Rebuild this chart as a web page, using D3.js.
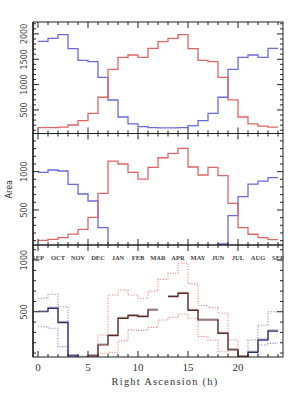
<!DOCTYPE html>
<html>
<head>
<meta charset="utf-8">
<script src="https://cdn.jsdelivr.net/npm/d3@7"></script>
<style>
  body { margin: 0; background: #fff; }
  svg { display: block; }
</style>
</head>
<body>
<div id="chart"></div>
<script>
// hours 0..23, one bin per hour
const hours = d3.range(24);

// panel 1
const topBlue = [1854, 1913, 1984, 1708, 1479, 1452, 1144, 696, 361, 223, 170, 150,
                 145, 145, 150, 190, 288, 434, 750, 1302, 1538, 1584, 1538, 1716];
const topRed = [150, 150, 160, 203, 288, 434, 750, 1302, 1538, 1584, 1538, 1716,
                1846, 1913, 1984, 1708, 1479, 1452, 1144, 700, 361, 223, 180, 160];

// panel 2
const midBlue = [991, 1021, 1008, 834, 708, 617, 269, 0, 0, 0, 0, 0,
                 0, 0, 0, 0, 0, 0, 56, 425, 673, 838, 877, 921];
const midRed = [104, 117, 138, 186, 248, 404, 717, 1138, 1099, 991, 903, 1056,
                1181, 1238, 1304, 1060, 956, 1056, 947, 587, 269, 183, 138, 112];

// panel 3
const N = null;
const lowBlue = [500, 533, 394, 72, 59, N, N, N, N, N, N, N,
                 N, N, N, N, N, N, N, N, 65, 107, 226, 313];
const lowRed = [N, N, N, N, 55, 72, 178, 268, 435, 463, 452, 517,
                N, 646, 678, 513, 420, 420, 291, 130, 65, N, N, N];
const blueHi = [630, 669, 549, 75, 60, N, N, N, N, N, N, N,
                N, N, N, N, N, N, N, N, 62, 226, 370, 500];
const blueLo = [355, 340, 162, 55, N, N, N, N, N, N, N, N,
                N, N, N, N, N, N, N, N, N, 55, 178, 194];
const redHi = [N, N, N, N, 60, 81, 275, 662, 710, 662, 630, 700,
               813, 872, 969, 770, 560, 540, 485, 226, 60, N, N, N];
const redLo = [N, N, N, N, N, 60, 98, 107, 218, 325, 320, 349,
               420, 446, 478, 437, 260, 224, 113, 65, N, N, N, N];

const months = ["SEP", "OCT", "NOV", "DEC", "JAN", "FEB", "MAR", "APR", "MAY", "JUN", "JUL", "AUG", "SEP"];
const xTicks = [0, 5, 10, 15, 20];

const W = 299, H = 399;
const left = 33, right = 283;
const bounds = [22, 133.5, 245, 357];

const svg = d3.select("#chart").append("svg")
  .attr("width", W).attr("height", H);

const x = d3.scaleLinear().domain([-0.5, 24.5]).range([left, right]);

const panels = [
  { domain: [35, 2235], ticks: [500, 1000, 1500, 2000], minor: 100 },
  { domain: [43, 1497], ticks: [500, 1000], minor: 100 },
  { domain: [62, 1146], ticks: [500, 1000], minor: 100 }
];
panels.forEach((p, i) => {
  p.top = bounds[i];
  p.bottom = bounds[i + 1];
  p.y = d3.scaleLinear().domain(p.domain).range([p.bottom, p.top]);
});

function stepPath(vals, y) {
  let d = "", prev = null;
  vals.forEach((v, i) => {
    if (v == null) { prev = null; return; }
    d += prev == null ? `M${x(i)},${y(v)}` : `V${y(v)}`;
    d += `H${x(i + 1)}`;
    prev = v;
  });
  return d;
}

panels.forEach((p, i) => {
  svg.append("clipPath").attr("id", "clip" + i)
    .append("rect").attr("x", left).attr("y", p.top)
    .attr("width", right - left).attr("height", p.bottom - p.top);
});

const ink = "#222";

function series(i, vals, color, opts = {}) {
  const p = panels[i];
  svg.append("path")
    .attr("clip-path", `url(#clip${i})`)
    .attr("d", stepPath(vals, p.y))
    .attr("fill", "none")
    .attr("stroke", color)
    .attr("stroke-width", opts.width || 1.3)
    .attr("stroke-dasharray", opts.dash || null)
    .attr("transform", opts.dy ? `translate(0,${opts.dy})` : null);
}

series(0, topBlue, "#6a6ae0");
series(0, topRed, "#e06464");
series(1, midBlue, "#6a6ae0");
series(1, midRed, "#e06464");

series(2, blueHi, "#7878dc", { dash: "1,1.6", width: 1.1 });
series(2, blueLo, "#7878dc", { dash: "1,1.6", width: 1.1 });
series(2, redHi, "#e47878", { dash: "1,1.6", width: 1.1 });
series(2, redLo, "#e47878", { dash: "1,1.6", width: 1.1 });
series(2, lowBlue, "#a0a0ac", { dy: -1, width: 1.2 });
series(2, lowRed, "#aca0a0", { dy: -1, width: 1.2 });
series(2, lowBlue, "#2c2c74", { width: 1.2 });
series(2, lowRed, "#642424", { width: 1.2 });

// frames and ticks
panels.forEach((p, i) => {
  const g = svg.append("g").attr("stroke", ink).attr("fill", "none");
  g.append("rect").attr("x", left).attr("y", p.top)
    .attr("width", right - left).attr("height", p.bottom - p.top)
    .attr("stroke-width", 1);

  // x ticks, inward on top and bottom
  d3.range(0, 25).forEach(h => {
    const len = h % 5 === 0 ? 6 : 3;
    const xx = x(h);
    g.append("line").attr("x1", xx).attr("x2", xx)
      .attr("y1", p.bottom).attr("y2", p.bottom - len);
    g.append("line").attr("x1", xx).attr("x2", xx)
      .attr("y1", p.top).attr("y2", p.top + len);
  });

  // y ticks, inward on left and right
  const start = Math.ceil(p.domain[0] / p.minor) * p.minor;
  d3.range(start, p.domain[1], p.minor).forEach(v => {
    const len = v % 500 === 0 ? 6 : 3;
    const yy = p.y(v);
    g.append("line").attr("x1", left).attr("x2", left + len)
      .attr("y1", yy).attr("y2", yy);
    g.append("line").attr("x1", right).attr("x2", right - len)
      .attr("y1", yy).attr("y2", yy);
  });

  // y tick labels
  p.ticks.forEach(v => {
    svg.append("text")
      .attr("transform", `translate(26.5,${p.y(v)}) rotate(-90)`)
      .attr("text-anchor", "middle")
      .attr("font-family", "DejaVu Sans, sans-serif")
      .attr("font-size", 8)
      .attr("fill", "#444")
      .text(v);
  });
});

// left axis line a bit heavier
svg.append("line").attr("x1", left).attr("x2", left)
  .attr("y1", bounds[0]).attr("y2", bounds[3])
  .attr("stroke", ink).attr("stroke-width", 1.4);

// month labels
months.forEach((m, i) => {
  svg.append("text")
    .attr("x", x(i * 2)).attr("y", 259.5)
    .attr("text-anchor", "middle")
    .attr("font-family", "Liberation Serif, serif")
    .attr("font-weight", "bold")
    .attr("font-size", 6.5)
    .attr("fill", "#444")
    .text(m);
});

// bottom x tick labels
xTicks.forEach(h => {
  svg.append("text")
    .attr("x", x(h)).attr("y", 371)
    .attr("text-anchor", "middle")
    .attr("font-family", "Liberation Serif, serif")
    .attr("font-size", 11)
    .attr("fill", "#333")
    .text(h);
});

svg.append("text")
  .attr("x", 165).attr("y", 385)
  .attr("text-anchor", "middle")
  .attr("font-family", "Liberation Serif, serif")
  .attr("font-size", 10.5)
  .attr("letter-spacing", 1.2)
  .attr("fill", "#333")
  .text("Right Ascension (h)");

svg.append("text")
  .attr("transform", `translate(12,${(bounds[1] + bounds[2]) / 2}) rotate(-90)`)
  .attr("text-anchor", "middle")
  .attr("font-family", "DejaVu Sans, sans-serif")
  .attr("font-size", 8)
  .attr("fill", "#333")
  .text("Area");
</script>
</body>
</html>
